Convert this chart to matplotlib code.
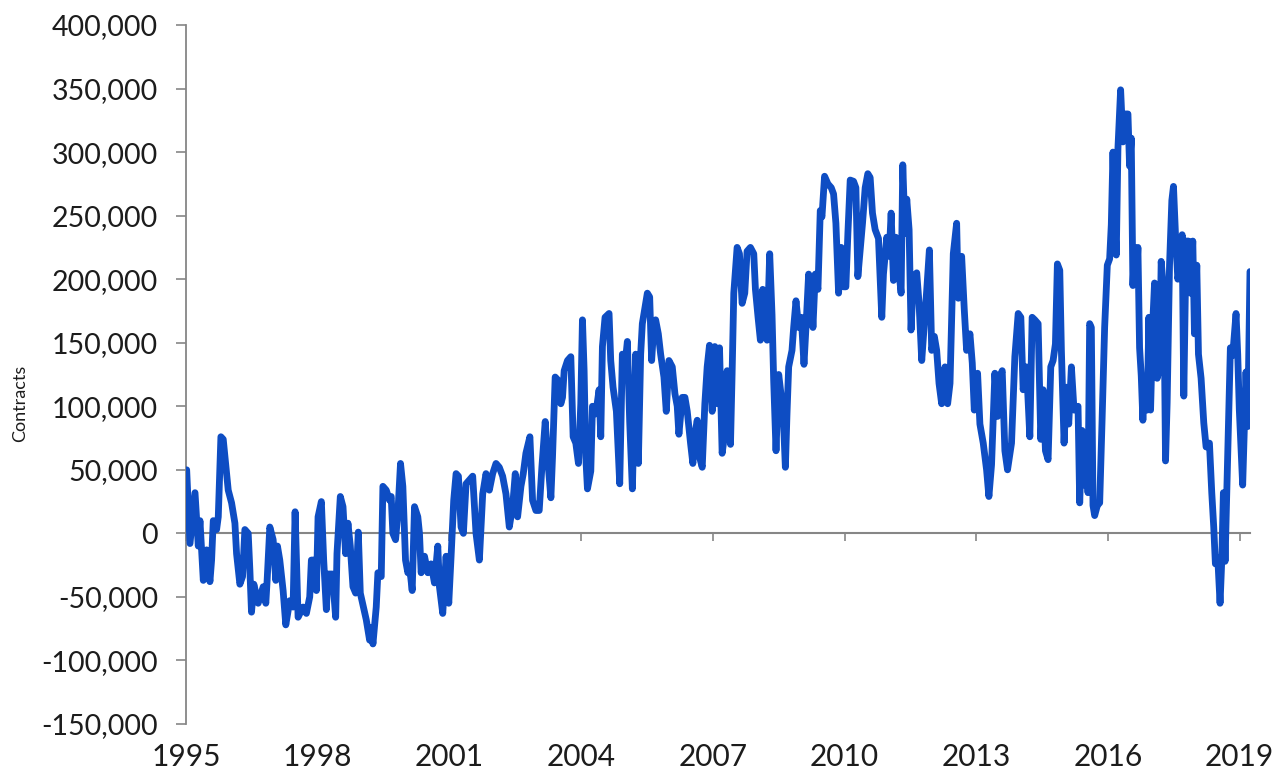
import matplotlib
matplotlib.use("Agg")
import matplotlib.pyplot as plt
from matplotlib.ticker import FuncFormatter

plt.rcParams['font.family'] = ['Lato', 'DejaVu Sans']

# Weekly net positions (decimal year, thousands of contracts)
years_1995_1998 = [
    1995.015, 1995.091, 1995.205, 1995.280, 1995.318, 1995.394, 1995.470, 1995.545, 1995.583, 1995.621,
    1995.697, 1995.735, 1995.795, 1995.848, 1995.962, 1996.038, 1996.114, 1996.152, 1996.227, 1996.288,
    1996.341, 1996.417, 1996.455, 1996.492, 1996.545, 1996.644, 1996.758, 1996.818, 1996.848, 1996.909,
    1996.985, 1997.045, 1997.083, 1997.136, 1997.212, 1997.273, 1997.364, 1997.439, 1997.485, 1997.553,
    1997.667, 1997.742, 1997.818, 1997.856, 1997.932, 1997.970, 1998.008, 1998.083, 1998.136, 1998.197,
    1998.235, 1998.333, 1998.409, 1998.439, 1998.515, 1998.576, 1998.636, 1998.689, 1998.742, 1998.803,
    1998.864, 1998.924, 1998.970]
net_1995_1998 = [
    50, -8, 32, -10, 10, -37, -13, -38, -21, 10,
    3, 13, 76, 74, 34, 24, 8, -16, -40, -34,
    3, 0, -29, -62, -40, -55, -42, -55, -37, 5,
    -5, -37, -10, -21, -45, -72, -53, -58, 17, -66,
    -58, -63, -50, -21, -21, -45, 13, 25, -21, -60,
    -32, -32, -66, -16, 29, 21, -16, 8, -10, -42,
    -47, 1, -47]

years_1999_2003 = [
    1999.106, 1999.182, 1999.220, 1999.258, 1999.333, 1999.371, 1999.447, 1999.485, 1999.561, 1999.636,
    1999.674, 1999.712, 1999.773, 1999.826, 1999.886, 1999.939, 2000.000, 2000.053, 2000.091, 2000.152,
    2000.205, 2000.280, 2000.318, 2000.356, 2000.432, 2000.508, 2000.583, 2000.659, 2000.735, 2000.773,
    2000.848, 2000.924, 2000.985, 2001.038, 2001.098, 2001.152, 2001.205, 2001.265, 2001.318, 2001.379,
    2001.455, 2001.530, 2001.606, 2001.682, 2001.758, 2001.833, 2001.909, 2001.985, 2002.061, 2002.136,
    2002.212, 2002.288, 2002.364, 2002.439, 2002.500, 2002.553, 2002.629, 2002.682, 2002.742, 2002.833,
    2002.894, 2002.970, 2003.045, 2003.106, 2003.182, 2003.235]
net_1999_2003 = [
    -68, -84, -74, -87, -58, -31, -34, 37, 34, 26,
    29, 0, -5, 16, 55, 37, -21, -31, -26, -45,
    21, 13, 0, -31, -18, -31, -24, -39, -10, -42,
    -63, -18, -55, -18, 26, 47, 45, 5, 0, 39,
    42, 45, 0, -21, 31, 47, 34, 47, 55, 52,
    45, 31, 5, 21, 47, 13, 37, 47, 63, 76,
    26, 18, 18, 52, 88, 60]

years_2003_2007 = [
    2003.311, 2003.348, 2003.409, 2003.462, 2003.538, 2003.576, 2003.614, 2003.689, 2003.765, 2003.818,
    2003.879, 2003.939, 2003.992, 2004.030, 2004.068, 2004.106, 2004.144, 2004.220, 2004.258, 2004.333,
    2004.409, 2004.447, 2004.485, 2004.545, 2004.636, 2004.674, 2004.727, 2004.803, 2004.879, 2004.939,
    2005.000, 2005.053, 2005.106, 2005.167, 2005.242, 2005.303, 2005.356, 2005.394, 2005.455, 2005.508,
    2005.561, 2005.606, 2005.644, 2005.697, 2005.758, 2005.811, 2005.886, 2005.939, 2006.000, 2006.076,
    2006.136, 2006.189, 2006.227, 2006.303, 2006.364, 2006.417, 2006.492, 2006.545, 2006.591, 2006.644,
    2006.697, 2006.758, 2006.818, 2006.871, 2006.924, 2006.985, 2007.045, 2007.098, 2007.152, 2007.212,
    2007.273, 2007.326]
net_2003_2007 = [
    28, 60, 123, 121, 102, 107, 128, 136, 139, 76,
    71, 55, 102, 168, 128, 60, 35, 49, 100, 94,
    113, 76, 147, 170, 173, 136, 115, 96, 39, 141,
    133, 151, 88, 35, 141, 55, 141, 165, 178, 189,
    186, 136, 157, 168, 157, 141, 123, 96, 136, 131,
    110, 100, 78, 107, 107, 96, 71, 55, 78, 89,
    60, 52, 102, 131, 148, 96, 147, 102, 146, 63,
    79, 128]

years_2007_2011 = [
    2007.348, 2007.402, 2007.439, 2007.477, 2007.553, 2007.606, 2007.667, 2007.727, 2007.780, 2007.856,
    2007.932, 2007.970, 2008.030, 2008.083, 2008.136, 2008.182, 2008.235, 2008.295, 2008.348, 2008.386,
    2008.439, 2008.500, 2008.561, 2008.614, 2008.652, 2008.689, 2008.727, 2008.803, 2008.841, 2008.894,
    2008.955, 2009.015, 2009.076, 2009.121, 2009.182, 2009.242, 2009.280, 2009.333, 2009.394, 2009.447,
    2009.485, 2009.545, 2009.621, 2009.697, 2009.750, 2009.803, 2009.864, 2009.924, 2009.977, 2010.030,
    2010.076, 2010.129, 2010.205, 2010.258, 2010.303, 2010.356, 2010.409, 2010.470, 2010.530, 2010.583,
    2010.636, 2010.697, 2010.773, 2010.848, 2010.886, 2010.962, 2011.015, 2011.061, 2011.114, 2011.167,
    2011.227, 2011.288, 2011.326, 2011.379]
net_2007_2011 = [
    110, 70, 126, 189, 225, 220, 181, 189, 222, 225,
    220, 192, 170, 152, 192, 165, 152, 220, 172, 120,
    65, 125, 107, 84, 52, 94, 131, 144, 162, 183,
    162, 170, 133, 162, 204, 192, 162, 204, 192, 254,
    249, 281, 275, 272, 267, 244, 189, 225, 194, 194,
    236, 278, 277, 272, 202, 223, 244, 272, 283, 280,
    252, 239, 232, 170, 204, 233, 218, 252, 199, 233,
    210, 189, 290, 236]

years_2011_2015 = [
    2011.417, 2011.470, 2011.515, 2011.568, 2011.644, 2011.697, 2011.758, 2011.818, 2011.871, 2011.932,
    2011.985, 2012.045, 2012.098, 2012.152, 2012.212, 2012.288, 2012.348, 2012.402, 2012.477, 2012.553,
    2012.591, 2012.667, 2012.727, 2012.780, 2012.856, 2012.909, 2012.955, 2013.030, 2013.083, 2013.159,
    2013.235, 2013.288, 2013.348, 2013.424, 2013.485, 2013.538, 2013.591, 2013.652, 2013.712, 2013.803,
    2013.879, 2013.955, 2014.015, 2014.068, 2014.144, 2014.220, 2014.273, 2014.333, 2014.409, 2014.470,
    2014.523, 2014.576, 2014.636, 2014.697, 2014.750, 2014.803, 2014.848, 2014.902, 2014.939, 2015.000,
    2015.053, 2015.106, 2015.167, 2015.227]
net_2011_2015 = [
    263, 239, 160, 202, 205, 181, 136, 165, 191, 223,
    144, 155, 144, 118, 102, 131, 102, 118, 220, 244,
    185, 218, 176, 144, 157, 134, 97, 126, 86, 71,
    50, 29, 54, 126, 92, 123, 128, 65, 50, 71,
    139, 173, 170, 113, 131, 76, 170, 168, 165, 74,
    113, 65, 58, 131, 136, 149, 212, 207, 144, 71,
    115, 86, 131, 97]

years_2015_2019 = [
    2015.318, 2015.356, 2015.409, 2015.455, 2015.508, 2015.545, 2015.583, 2015.621, 2015.659, 2015.697,
    2015.758, 2015.811, 2015.864, 2015.924, 2015.985, 2016.038, 2016.076, 2016.114, 2016.152, 2016.189,
    2016.227, 2016.288, 2016.341, 2016.394, 2016.455, 2016.492, 2016.530, 2016.568, 2016.606, 2016.644,
    2016.682, 2016.720, 2016.758, 2016.795, 2016.833, 2016.894, 2016.932, 2016.970, 2017.023, 2017.061,
    2017.121, 2017.174, 2017.212, 2017.273, 2017.311, 2017.348, 2017.402, 2017.455, 2017.492, 2017.538,
    2017.591, 2017.644, 2017.689, 2017.727, 2017.780, 2017.833, 2017.879, 2017.932, 2017.970, 2018.023,
    2018.061, 2018.121, 2018.182, 2018.235, 2018.311, 2018.364, 2018.409, 2018.447, 2018.500, 2018.553,
    2018.591, 2018.629, 2018.667, 2018.727, 2018.788, 2018.841, 2018.917, 2018.955, 2018.992, 2019.068,
    2019.144, 2019.182, 2019.235]
net_2015_2019 = [
    100, 24, 81, 38, 78, 32, 165, 162, 22, 14,
    22, 24, 87, 162, 211, 216, 243, 300, 249, 219,
    303, 349, 308, 330, 330, 289, 311, 195, 225, 197,
    225, 146, 124, 89, 122, 97, 170, 97, 168, 197,
    122, 130, 214, 189, 57, 103, 211, 262, 273, 235,
    200, 211, 235, 108, 230, 230, 189, 230, 157, 211,
    141, 122, 87, 68, 71, 32, 5, -24, -19, -55,
    -22, 32, -22, 60, 146, 140, 173, 141, 97, 38,
    127, 84, 206]

year_ticks = [1995, 1998, 2001, 2004, 2007, 2010, 2013, 2016, 2019]
value_ticks = [-150000, -100000, -50000, 0, 50000, 100000, 150000, 200000, 250000, 300000, 350000, 400000]
y_label = "Contracts"

years = (years_1995_1998 + years_1999_2003 + years_2003_2007 + years_2007_2011
         + years_2011_2015 + years_2015_2019)
net_k = (net_1995_1998 + net_1999_2003 + net_2003_2007 + net_2007_2011
         + net_2011_2015 + net_2015_2019)
contracts = [v * 1000 for v in net_k]

W, H = 1279, 778
fig = plt.figure(figsize=(W / 100, H / 100), dpi=100)
ax = fig.add_axes([186 / W, 1 - 724 / H, (1250 - 186) / W, (724 - 25) / H])

ax.plot(years, contracts, color='#0E4DC3', lw=4.9,
        solid_joinstyle='round', solid_capstyle='round', zorder=3)

ax.set_xlim(1995, years[-1])
ax.set_ylim(value_ticks[0], value_ticks[-1])

grey = '#868686'
text_col = '#1c1c1c'
for s in ['top', 'right', 'bottom']:
    ax.spines[s].set_visible(False)
ax.spines['left'].set_color(grey)
ax.spines['left'].set_linewidth(1.3)

ax.set_yticks(value_ticks)
ax.yaxis.set_major_formatter(FuncFormatter(lambda v, p: f"{int(round(v)):,}"))
ax.tick_params(axis='y', direction='out', length=7, width=1.2, color=grey,
               pad=13, labelsize=20.5, labelcolor=text_col)

ax.set_xticks(year_ticks)
ax.set_xticklabels([str(y) for y in year_ticks])
ax.tick_params(axis='x', length=0, pad=14, labelsize=21.5, labelcolor=text_col)

zero_axis = ax.secondary_xaxis(0, transform=ax.transData)
zero_axis.set_xticks(year_ticks)
zero_axis.set_xticklabels([])
zero_axis.tick_params(direction='out', length=6, width=1.2, color=grey)
zero_axis.spines['bottom'].set_color(grey)
zero_axis.spines['bottom'].set_linewidth(1.5)

fig.text(20 / W, 1 - 403 / H, y_label, rotation=90, ha='center', va='center',
         fontsize=13, color=text_col)

fig.savefig('out.png', dpi=100, facecolor='white')
